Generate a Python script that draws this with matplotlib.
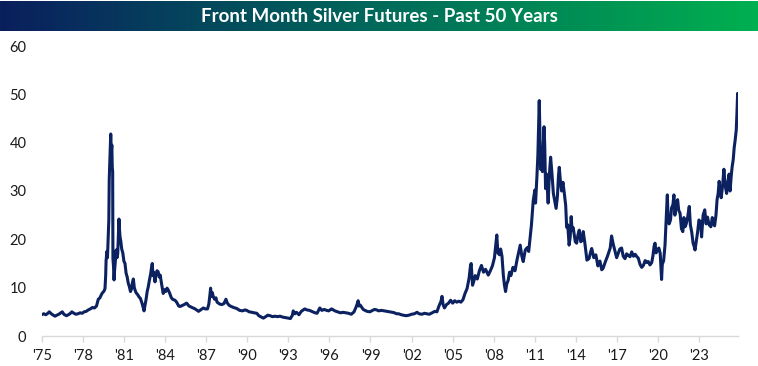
import numpy as np
import matplotlib
matplotlib.use('Agg')
import matplotlib.pyplot as plt
from matplotlib.colors import LinearSegmentedColormap

# data (decimal year, front month price in $)
years = [
    1975.00, 1975.15, 1975.30, 1975.45, 1975.55, 1975.70, 1975.85, 1975.97, 1976.10, 1976.25,
    1976.40, 1976.50, 1976.62, 1976.80, 1976.95, 1977.10, 1977.20, 1977.35, 1977.50, 1977.65,
    1977.80, 1977.95, 1978.10, 1978.25, 1978.40, 1978.55, 1978.70, 1978.85, 1979.00, 1979.13,
    1979.25, 1979.40, 1979.55, 1979.62, 1979.67, 1979.70, 1979.76, 1979.80, 1979.86, 1979.90,
    1979.93, 1979.97, 1980.04, 1980.08, 1980.12, 1980.15, 1980.18, 1980.20, 1980.24, 1980.28,
    1980.32, 1980.38, 1980.44, 1980.50, 1980.55, 1980.60, 1980.64, 1980.68, 1980.72, 1980.78,
    1980.84, 1980.92, 1981.00, 1981.08, 1981.16, 1981.24, 1981.32, 1981.40, 1981.48, 1981.55,
    1981.62, 1981.69, 1981.76, 1981.85, 1981.93, 1982.02, 1982.10, 1982.20, 1982.30, 1982.40,
    1982.47, 1982.55, 1982.62, 1982.70, 1982.78, 1982.86, 1982.95, 1983.02, 1983.07, 1983.12,
    1983.18, 1983.27, 1983.35, 1983.42, 1983.50, 1983.58, 1983.65, 1983.75, 1983.87, 1983.95,
    1984.05, 1984.15, 1984.24, 1984.35, 1984.45, 1984.55, 1984.65, 1984.73, 1984.85, 1985.00,
    1985.10, 1985.25, 1985.40, 1985.58, 1985.75, 1985.90, 1986.05, 1986.20, 1986.30, 1986.45,
    1986.60, 1986.80, 1986.95, 1987.10, 1987.20, 1987.28, 1987.33, 1987.38, 1987.45, 1987.53,
    1987.62, 1987.72, 1987.80, 1987.90, 1988.00, 1988.15, 1988.30, 1988.45, 1988.55, 1988.70,
    1988.85, 1989.00, 1989.23, 1989.45, 1989.65, 1989.85, 1989.96, 1990.15, 1990.35, 1990.50,
    1990.70, 1990.85, 1991.05, 1991.18, 1991.35, 1991.50, 1991.67, 1991.85, 1992.05, 1992.20,
    1992.40, 1992.60, 1992.80, 1993.00, 1993.15, 1993.30, 1993.36, 1993.48, 1993.60, 1993.78,
    1993.95, 1994.10, 1994.20, 1994.35, 1994.55, 1994.80, 1994.95, 1995.10, 1995.30, 1995.45,
    1995.62, 1995.80, 1995.95, 1996.10, 1996.17, 1996.40, 1996.60, 1996.80, 1997.00, 1997.20,
    1997.40, 1997.60, 1997.80, 1997.95, 1998.05, 1998.10, 1998.16, 1998.25, 1998.40, 1998.47,
    1998.60, 1998.75, 1998.96, 1999.15, 1999.30, 1999.45, 1999.60, 1999.80, 2000.00, 2000.20,
    2000.40, 2000.60, 2000.75, 2000.90, 2001.05, 2001.25, 2001.40, 2001.60, 2001.80, 2002.00,
    2002.20, 2002.40, 2002.55, 2002.75, 2002.95, 2003.10, 2003.30, 2003.50, 2003.70, 2003.85,
    2004.00, 2004.15, 2004.22, 2004.30, 2004.40, 2004.55, 2004.70, 2004.85, 2005.00, 2005.15,
    2005.30, 2005.45, 2005.60, 2005.75, 2005.90, 2006.05, 2006.20, 2006.30, 2006.35, 2006.45,
    2006.55, 2006.65, 2006.80, 2006.95, 2007.10, 2007.25, 2007.40, 2007.60, 2007.75, 2007.90,
    2008.05, 2008.15, 2008.22, 2008.30, 2008.42, 2008.50, 2008.60, 2008.70, 2008.78, 2008.86,
    2008.95, 2009.05, 2009.15, 2009.25, 2009.40, 2009.55, 2009.70, 2009.85, 2009.93, 2010.05,
    2010.15, 2010.30, 2010.45, 2010.55, 2010.64, 2010.75, 2010.88, 2011.00, 2011.05, 2011.15,
    2011.22, 2011.28, 2011.32, 2011.36, 2011.42, 2011.48, 2011.55, 2011.62, 2011.67, 2011.72,
    2011.78, 2011.85, 2011.93, 2011.97, 2012.05, 2012.15, 2012.25, 2012.35, 2012.45, 2012.55,
    2012.65, 2012.72, 2012.78, 2012.85, 2012.95, 2013.05, 2013.15, 2013.25, 2013.32, 2013.40,
    2013.50, 2013.58, 2013.65, 2013.72, 2013.80, 2013.95, 2014.05, 2014.15, 2014.24, 2014.35,
    2014.45, 2014.53, 2014.65, 2014.80, 2014.95, 2015.08, 2015.15, 2015.30, 2015.45, 2015.60,
    2015.75, 2015.88, 2015.98, 2016.15, 2016.30, 2016.42, 2016.50, 2016.60, 2016.72, 2016.85,
    2016.97, 2017.10, 2017.20, 2017.33, 2017.45, 2017.58, 2017.70, 2017.85, 2017.95, 2018.07,
    2018.20, 2018.32, 2018.45, 2018.55, 2018.68, 2018.80, 2018.92, 2019.05, 2019.18, 2019.28,
    2019.40, 2019.53, 2019.62, 2019.70, 2019.77, 2019.85, 2019.95, 2020.05, 2020.15, 2020.20,
    2020.25, 2020.30, 2020.40, 2020.50, 2020.58, 2020.65, 2020.67, 2020.72, 2020.80, 2020.90,
    2020.98, 2021.08, 2021.15, 2021.22, 2021.35, 2021.42, 2021.50, 2021.60, 2021.70, 2021.80,
    2021.88, 2021.96, 2022.05, 2022.15, 2022.27, 2022.35, 2022.45, 2022.55, 2022.62, 2022.69,
    2022.78, 2022.88, 2022.98, 2023.10, 2023.17, 2023.28, 2023.40, 2023.50, 2023.60, 2023.72,
    2023.85, 2023.95, 2024.05, 2024.12, 2024.22, 2024.30, 2024.38, 2024.45, 2024.52, 2024.60,
    2024.70, 2024.80, 2024.86, 2024.93, 2025.00, 2025.10, 2025.18, 2025.25, 2025.33, 2025.40,
    2025.48, 2025.55, 2025.62, 2025.70, 2025.75, 2025.80, 2025.84,
]
prices = [
    4.4, 4.6, 4.4, 4.7, 5.0, 4.6, 4.3, 4.1, 4.3, 4.5,
    4.8, 5.0, 4.5, 4.2, 4.4, 4.7, 5.0, 4.7, 4.5, 4.6,
    4.8, 4.7, 5.0, 5.1, 5.4, 5.6, 5.9, 5.8, 6.2, 7.6,
    7.9, 8.8, 9.3, 9.8, 12.5, 15.6, 17.5, 16.2, 20.6, 24.0,
    32.5, 36.0, 41.8, 38.0, 39.5, 35.0, 34.0, 16.0, 14.5, 11.6,
    13.5, 15.8, 17.8, 16.2, 17.0, 21.0, 24.2, 22.0, 20.5, 19.5,
    18.0, 17.2, 15.5, 15.0, 13.0, 12.2, 10.9, 10.2, 9.2, 9.7,
    11.0, 11.8, 10.0, 9.2, 8.8, 8.5, 8.1, 7.8, 7.0, 6.0,
    5.2, 6.5, 7.6, 9.2, 10.2, 11.5, 12.8, 14.2, 15.0, 12.5,
    13.2, 11.2, 12.8, 13.5, 13.3, 12.2, 12.6, 10.8, 8.8, 9.6,
    9.2, 9.9, 9.5, 8.8, 8.0, 7.6, 7.5, 7.4, 7.0, 6.2,
    6.1, 6.3, 6.5, 6.8, 6.2, 6.0, 5.8, 5.6, 5.4, 5.1,
    5.4, 5.8, 5.6, 5.6, 6.6, 8.5, 9.9, 8.2, 9.0, 8.1,
    7.6, 7.9, 7.0, 6.8, 6.6, 6.5, 6.7, 7.6, 6.8, 6.3,
    6.1, 5.9, 5.7, 5.3, 5.2, 5.4, 5.3, 5.0, 4.9, 4.8,
    4.7, 4.2, 3.9, 3.7, 4.0, 4.3, 4.2, 4.0, 4.1, 4.0,
    4.1, 3.9, 3.8, 3.7, 3.6, 4.3, 5.2, 4.6, 4.9, 4.4,
    5.1, 5.4, 5.6, 5.4, 5.3, 5.0, 4.8, 4.7, 5.8, 5.3,
    5.5, 5.3, 5.2, 5.5, 5.6, 5.2, 5.0, 4.8, 4.9, 4.8,
    4.7, 4.5, 5.0, 6.0, 6.8, 7.3, 6.2, 6.4, 5.8, 5.5,
    5.3, 5.1, 5.0, 5.3, 5.5, 5.4, 5.2, 5.3, 5.2, 5.1,
    5.0, 4.9, 4.8, 4.6, 4.6, 4.4, 4.3, 4.2, 4.3, 4.5,
    4.6, 4.9, 4.6, 4.5, 4.7, 4.6, 4.5, 4.8, 5.1, 5.0,
    6.2, 7.2, 8.2, 6.5, 5.8, 6.5, 6.8, 7.4, 6.8, 7.3,
    7.0, 7.2, 7.0, 7.5, 8.8, 9.8, 12.0, 14.5, 15.0, 10.5,
    11.4, 12.5, 11.8, 13.5, 14.6, 13.2, 13.8, 12.6, 13.5, 14.5,
    16.2, 19.0, 20.9, 17.2, 16.8, 18.0, 16.5, 12.5, 10.5, 9.2,
    10.8, 11.5, 13.2, 12.5, 14.2, 13.5, 15.8, 17.8, 18.8, 16.5,
    15.4, 17.8, 18.3, 17.5, 19.9, 23.0, 28.0, 30.2, 27.5, 33.0,
    37.5, 44.0, 48.7, 43.0, 34.5, 37.0, 34.0, 40.0, 43.3, 39.5,
    30.5, 33.5, 29.5, 27.5, 33.0, 37.0, 33.5, 29.5, 28.0, 26.4,
    29.0, 33.0, 34.9, 32.5, 30.0, 31.8, 29.5, 27.0, 22.5, 23.0,
    18.8, 20.5, 24.7, 21.8, 22.4, 19.5, 19.2, 21.0, 21.9, 19.5,
    19.8, 21.6, 19.2, 15.7, 16.0, 17.5, 18.1, 16.2, 16.8, 14.5,
    15.5, 13.7, 14.0, 15.4, 16.5, 17.5, 18.2, 20.7, 19.0, 17.5,
    16.2, 17.2, 18.0, 18.2, 16.5, 16.0, 17.0, 16.6, 16.4, 17.4,
    16.5, 16.9, 16.4, 16.1, 14.8, 14.2, 14.6, 15.6, 15.2, 15.4,
    14.7, 15.2, 16.6, 18.5, 19.2, 17.2, 17.8, 18.2, 17.1, 14.5,
    11.7, 14.8, 15.6, 18.8, 24.0, 28.2, 29.2, 24.8, 23.2, 24.0,
    26.5, 27.2, 29.2, 25.0, 27.8, 28.2, 26.0, 25.4, 22.2, 21.6,
    24.5, 22.6, 23.2, 24.5, 26.8, 23.0, 21.5, 19.2, 18.6, 17.8,
    19.5, 21.5, 24.0, 23.5, 20.5, 25.0, 26.1, 23.2, 24.6, 23.0,
    22.6, 24.5, 23.2, 22.8, 25.0, 28.2, 29.5, 32.0, 30.5, 28.6,
    31.0, 34.5, 32.2, 30.5, 29.5, 32.0, 33.5, 30.0, 33.0, 35.0,
    36.5, 39.0, 40.5, 42.6, 46.0, 50.2, 48.0,
]
tick_years = list(range(1975, 2024, 3))
tick_labels = ["'" + str(y)[2:] for y in tick_years]
y_ticks = [0, 10, 20, 30, 40, 50, 60]

title = 'Front Month Silver Futures - Past 50 Years'
line_color = '#0B2160'
W, H = 758, 366

fig = plt.figure(figsize=(W / 100, H / 100), dpi=100)

# gradient title bar
bar = fig.add_axes([0.0, 1 - 31 / H, 1.0, 30 / H])
cmap = LinearSegmentedColormap.from_list('band', ['#0A1F5E', '#006A5A', '#00B050'])
bar.imshow(np.linspace(0, 1, 256)[None, :], aspect='auto', cmap=cmap, extent=[0, 1, 0, 1])
bar.set_xlim(0, 1)
bar.set_ylim(0, 1)
bar.axis('off')
bar.text(0.5, 0.5, title, color='white', fontsize=13.5, fontweight='bold',
         family='Lato', ha='center', va='center')

# main plot
ax = fig.add_axes([41.7 / W, 1 - 336 / H, (738.3 - 41.7) / W, (336 - 46) / H])
ax.plot(years, prices, color=line_color, linewidth=2.2, solid_joinstyle='round')
ax.set_xlim(1975.0, 2025.85)
ax.set_ylim(0, 60)
ax.set_yticks(y_ticks)
ax.set_xticks(tick_years)
ax.set_xticklabels(tick_labels)

for s in ['top', 'right', 'left']:
    ax.spines[s].set_visible(False)
ax.spines['bottom'].set_color('#D9D9D9')
ax.spines['bottom'].set_linewidth(1.0)
ax.tick_params(axis='y', length=0, pad=11, labelsize=10.5, labelcolor='#1A1A1A')
ax.tick_params(axis='x', length=4, width=1.0, color='#D9D9D9', direction='out',
               pad=5, labelsize=10.5, labelcolor='#1A1A1A')
for lab in ax.get_xticklabels() + ax.get_yticklabels():
    lab.set_family('Lato')

fig.savefig('out.png', dpi=100)
